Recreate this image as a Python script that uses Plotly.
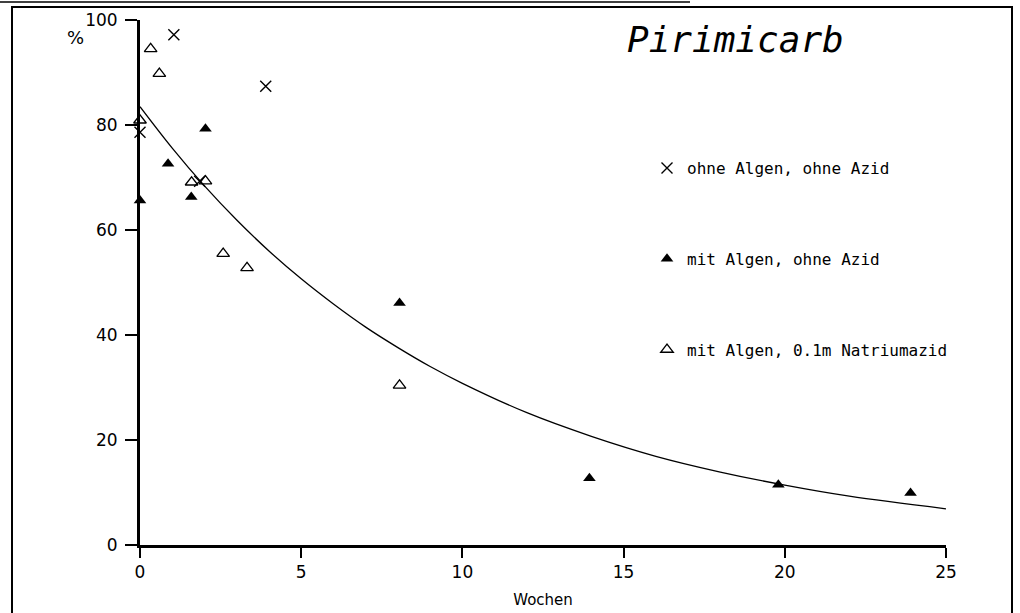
import plotly.graph_objects as go

# ---- data ----
x_cross = [1.05, 3.9, 0.0, 1.85]
y_cross = [97.2, 87.4, 78.6, 69.3]

x_filled = [0.0, 0.87, 1.59, 2.03, 8.05, 13.94, 19.8, 23.9]
y_filled = [65.6, 72.6, 66.3, 79.3, 46.1, 12.7, 11.5, 9.9]

x_open = [0.0, 0.33, 0.6, 1.6, 2.03, 2.58, 3.32, 8.05]
y_open = [80.9, 94.5, 89.8, 69.1, 69.3, 55.5, 52.8, 30.4]

x_curve = [0, 1, 2, 3, 4, 5, 6, 7, 8, 9, 10, 12, 14, 16, 18, 20, 22, 25]
y_curve = [83.5, 75.6, 68.4, 61.9, 56.0, 50.7, 45.9, 41.5, 37.6, 34.0, 30.8,
           25.2, 20.7, 16.9, 13.9, 11.4, 9.3, 6.9]

x_ticks = [0, 5, 10, 15, 20, 25]
y_ticks = [0, 20, 40, 60, 80, 100]

labels = ["ohne Algen, ohne Azid", "mit Algen, ohne Azid", "mit Algen, 0.1m Natriumazid"]

FONT = "DejaVu Sans"
MONO = "DejaVu Sans Mono"

fig = go.Figure()
fig.add_trace(go.Scatter(x=x_curve, y=y_curve, mode="lines", line=dict(color="black", width=1.3, shape="spline"),
                         showlegend=False, hoverinfo="skip"))
fig.add_trace(go.Scatter(x=x_cross, y=y_cross, mode="markers", name=labels[0], legendgroup="a",
                         marker=dict(symbol="x-thin-open", size=11, color="black", line=dict(color="black", width=1.4)),
                         cliponaxis=False))
fig.add_trace(go.Scatter(x=x_filled, y=y_filled, mode="markers", name=labels[1], legendgroup="b",
                         marker=dict(symbol="triangle-up", size=11, color="black", line=dict(width=0)),
                         cliponaxis=False))
fig.add_trace(go.Scatter(x=x_open, y=y_open, mode="markers", name=labels[2], legendgroup="c",
                         marker=dict(symbol="triangle-up-open", size=11, color="black", line=dict(color="black", width=1.3)),
                         cliponaxis=False))

L, R, T, B = 140, 74, 20, 68
W, H = 1020, 613
pw, ph = W - L - R, H - T - B

def px2x(px):
    return (px - L) / pw

def py2y(py):
    return (H - B - py) / ph

fig.update_layout(
    width=W, height=H,
    margin=dict(l=L, r=R, t=T, b=B, autoexpand=False),
    paper_bgcolor="white", plot_bgcolor="white",
    font=dict(family=FONT, color="black", size=15),
    xaxis=dict(range=[0, 25], tickvals=x_ticks, ticktext=[str(v) for v in x_ticks],
               showgrid=False, zeroline=False, showline=True, linecolor="black", linewidth=2.5,
               ticks="outside", ticklen=10, tickwidth=1.5, tickcolor="black", automargin=False,
               tickfont=dict(family=FONT, size=17),
               title=dict(text="Wochen", font=dict(family=FONT, size=15), standoff=14)),
    yaxis=dict(range=[0, 100], tickvals=y_ticks, ticktext=[str(v) for v in y_ticks],
               showgrid=False, zeroline=False, showline=True, linecolor="black", linewidth=3,
               ticks="outside", ticklen=12, tickwidth=1.5, tickcolor="black", automargin=False,
               tickfont=dict(family=FONT, size=17), ticklabelstandoff=4),
    legend=dict(x=px2x(647), y=py2y(151), xanchor="left", yanchor="top",
                bgcolor="rgba(0,0,0,0)", borderwidth=0, tracegroupgap=67,
                font=dict(family=MONO, size=16), itemwidth=30),
    showlegend=True,
)

fig.add_annotation(x=px2x(625), y=py2y(40), xref="paper", yref="paper", text="<i>Pirimicarb</i>",
                   showarrow=False, xanchor="left", yanchor="middle",
                   font=dict(family=MONO, size=36, color="black"))
fig.add_annotation(x=px2x(75), y=py2y(37), xref="paper", yref="paper", text="%",
                   showarrow=False, xanchor="center", yanchor="middle",
                   font=dict(family=FONT, size=18, color="black"))

# outer frame
fig.add_shape(type="rect", xref="paper", yref="paper",
              x0=px2x(12), x1=px2x(1012), y0=py2y(625), y1=py2y(7),
              line=dict(color="black", width=2), fillcolor="rgba(0,0,0,0)", layer="below")
fig.add_shape(type="line", xref="paper", yref="paper",
              x0=px2x(0), x1=px2x(690), y0=py2y(2), y1=py2y(2),
              line=dict(color="black", width=1.5))

fig.write_html("out.html")
